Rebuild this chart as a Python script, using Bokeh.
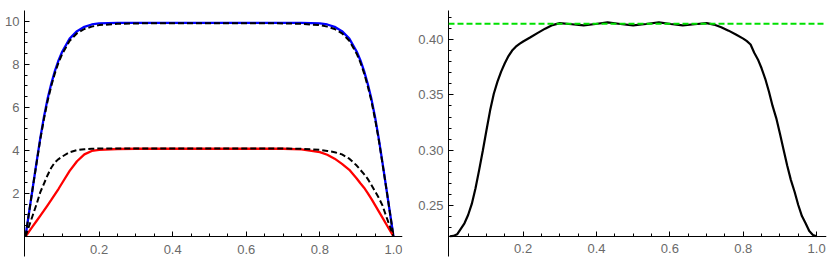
from bokeh.plotting import figure
from bokeh.layouts import row
from bokeh.models import Range1d, FixedTicker, PrintfTickFormatter, Span
from bokeh.embed import file_html
from bokeh.resources import INLINE

# ---------------- data: left panel ----------------
x_left = [0, 0.01, 0.02, 0.03, 0.04, 0.05, 0.06, 0.07, 0.08, 0.09, 0.10, 0.12, 0.14, 0.16, 0.18, 0.20,
          0.25, 0.30, 0.40, 0.50, 0.60, 0.70, 0.75, 0.80, 0.82, 0.84, 0.86, 0.88, 0.90, 0.91, 0.92,
          0.93, 0.94, 0.95, 0.96, 0.97, 0.98, 0.99, 1.00]
blue_upper = [0, 1.15, 2.3, 3.45, 4.55, 5.55, 6.4, 7.1, 7.7, 8.2, 8.6, 9.2, 9.55, 9.75, 9.86, 9.91,
              9.93, 9.93, 9.93, 9.93, 9.93, 9.93, 9.93, 9.91, 9.86, 9.75, 9.55, 9.2, 8.6, 8.2, 7.7,
              7.1, 6.4, 5.55, 4.55, 3.45, 2.3, 1.15, 0]
black_upper = [0, 1.15, 2.3, 3.4, 4.5, 5.45, 6.3, 7.0, 7.6, 8.1, 8.5, 9.1, 9.45, 9.65, 9.76, 9.83,
               9.89, 9.91, 9.92, 9.92, 9.92, 9.91, 9.89, 9.83, 9.76, 9.65, 9.45, 9.1, 8.5, 8.1, 7.6,
               7.0, 6.3, 5.45, 4.5, 3.4, 2.3, 1.15, 0]
red_lower = [0, 0.24, 0.48, 0.72, 0.96, 1.2, 1.45, 1.7, 1.96, 2.22, 2.5, 3.05, 3.5, 3.82, 3.98, 4.03,
             4.07, 4.08, 4.08, 4.08, 4.08, 4.08, 4.05, 3.92, 3.80, 3.62, 3.38, 3.10, 2.70, 2.48, 2.27,
             2.02, 1.75, 1.46, 1.17, 0.88, 0.58, 0.29, 0]
black_lower = [0, 0.5, 1.0, 1.5, 2.05, 2.45, 2.85, 3.2, 3.45, 3.6, 3.72, 3.92, 4.02, 4.06, 4.08, 4.09,
               4.09, 4.09, 4.09, 4.09, 4.09, 4.09, 4.08, 4.03, 3.98, 3.92, 3.82, 3.62, 3.3, 3.1, 2.9,
               2.68, 2.4, 2.1, 1.8, 1.45, 0.95, 0.48, 0]

left_xticks = [0.2, 0.4, 0.6, 0.8, 1.0]
left_xminor = [0.05, 0.1, 0.15, 0.25, 0.3, 0.35, 0.45, 0.5, 0.55, 0.65, 0.7, 0.75, 0.85, 0.9, 0.95]
left_yticks = [2, 4, 6, 8, 10]
left_yminor = [0.5, 1, 1.5, 2.5, 3, 3.5, 4.5, 5, 5.5, 6.5, 7, 7.5, 8.5, 9, 9.5]

# ---------------- data: right panel ----------------
x_right = [0, 0.01, 0.02, 0.03, 0.04, 0.05, 0.06, 0.07, 0.08, 0.09, 0.10, 0.11, 0.12, 0.13, 0.14,
           0.15, 0.16, 0.17, 0.18, 0.19, 0.20, 0.22, 0.24, 0.26, 0.28, 0.30, 0.3325, 0.365, 0.3975,
           0.43, 0.465, 0.50, 0.535, 0.57, 0.6025, 0.635, 0.6675, 0.70, 0.72, 0.74, 0.76, 0.78,
           0.80, 0.81, 0.82, 0.83, 0.84, 0.85, 0.86, 0.87, 0.88, 0.89, 0.90, 0.91, 0.92, 0.93,
           0.94, 0.95, 0.96, 0.97, 0.98, 0.99, 1.00]
y_right = [0.2223, 0.2226, 0.2240, 0.2290, 0.2340, 0.2415, 0.2515, 0.2655, 0.2820, 0.2995, 0.3180,
           0.3360, 0.3510, 0.3620, 0.3710, 0.3785, 0.3850, 0.3900, 0.3935, 0.3960, 0.3982, 0.4020,
           0.4060, 0.4098, 0.4130, 0.4148, 0.4138, 0.4127, 0.4140, 0.4154, 0.4140, 0.4127, 0.4140,
           0.4154, 0.4140, 0.4127, 0.4138, 0.4148, 0.4135, 0.4111, 0.4080, 0.4045, 0.4008, 0.3985,
           0.3955, 0.3880, 0.3820, 0.3740, 0.3645, 0.3530, 0.3400, 0.3290, 0.3150, 0.3005, 0.2860,
           0.2730, 0.2625, 0.2505, 0.2405, 0.2340, 0.2270, 0.2235, 0.2223]
green_level = 0.4142
right_origin = 0.2223

right_xticks = [0.2, 0.4, 0.6, 0.8, 1.0]
right_xminor = [0.05, 0.1, 0.15, 0.25, 0.3, 0.35, 0.45, 0.5, 0.55, 0.65, 0.7, 0.75, 0.85, 0.9, 0.95]
right_yticks = [0.25, 0.30, 0.35, 0.40]
right_yminor = [0.23, 0.24, 0.26, 0.27, 0.28, 0.29, 0.31, 0.32, 0.33, 0.34, 0.36, 0.37, 0.38, 0.39,
                0.41, 0.42]

FONT = "Liberation Sans"
LABEL_COLOR = "#6a6a6a"


def style_axes(p, xticks, xminor, yticks, yminor, xfmt, yfmt, x_at):
    xa = p.xaxis[0]
    ya = p.yaxis[0]
    xa.ticker = FixedTicker(ticks=xticks, minor_ticks=xminor)
    ya.ticker = FixedTicker(ticks=yticks, minor_ticks=yminor)
    xa.formatter = PrintfTickFormatter(format=xfmt)
    ya.formatter = PrintfTickFormatter(format=yfmt)
    xa.fixed_location = x_at
    for ax in (xa, ya):
        ax.axis_line_color = "black"
        ax.axis_line_width = 1
        ax.major_tick_line_color = "black"
        ax.minor_tick_line_color = "black"
        ax.major_tick_in = 5
        ax.major_tick_out = 0
        ax.minor_tick_in = 3
        ax.minor_tick_out = 0
        ax.major_label_text_font = FONT
        ax.major_label_text_font_size = "13px"
        ax.major_label_text_color = LABEL_COLOR
    xa.major_label_standoff = 8
    ya.major_label_standoff = 5
    p.grid.visible = False
    p.outline_line_color = None


# ---------------- left figure ----------------
p1 = figure(width=415, height=262, output_backend="svg", toolbar_location=None,
            x_range=Range1d(-0.0027, 1.0245), y_range=Range1d(-0.93, 10.51),
            min_border_left=24, min_border_right=13, min_border_top=10, min_border_bottom=6)
p1.line(x_left, blue_upper, line_color="#0000ff", line_width=2.3)
p1.line(x_left, black_upper, line_color="black", line_width=2, line_dash="6 3")
p1.line(x_left, red_lower, line_color="#ff0000", line_width=2.3)
p1.line(x_left, black_lower, line_color="black", line_width=2, line_dash="6 3")
style_axes(p1, left_xticks, left_xminor, left_yticks, left_yminor, "%.1f", "%d", 0)

# ---------------- right figure ----------------
p2 = figure(width=416, height=262, output_backend="svg", toolbar_location=None,
            x_range=Range1d(-0.0035, 1.027), y_range=Range1d(0.2040, 0.4262),
            min_border_left=31, min_border_right=5, min_border_top=10, min_border_bottom=6)
p2.add_layout(Span(location=green_level, dimension="width", line_color="#00e000",
                   line_width=2, line_dash="6 3"))
p2.line(x_right, y_right, line_color="black", line_width=2.2)
style_axes(p2, right_xticks, right_xminor, right_yticks, right_yminor, "%.1f", "%.2f",
           right_origin)

layout = row(p1, p2)
open("out.html", "w").write(file_html(layout, INLINE))
